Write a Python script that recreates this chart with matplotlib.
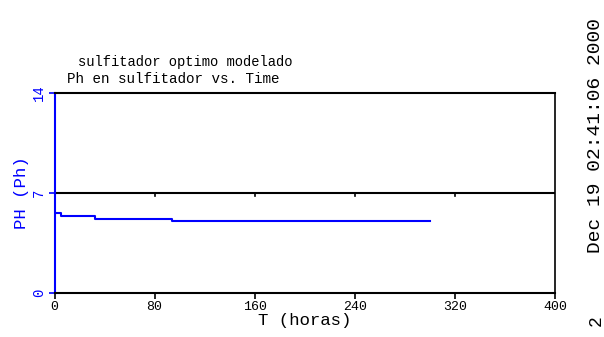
import matplotlib
matplotlib.use("Agg")
import matplotlib.pyplot as plt

# data
t_horas = [0, 5, 32, 94, 300]
ph = [5.57, 5.38, 5.17, 5.01, 5.01]
xticks = [0, 80, 160, 240, 320, 400]
yticks = [0, 7, 14]

plt.rcParams['font.family'] = ['Liberation Mono', 'DejaVu Sans Mono']

fig = plt.figure(figsize=(6.04, 3.37), dpi=100)
ax = fig.add_axes([54.5 / 604, 1 - 292.5 / 337, 500.5 / 604, 200 / 337])

ax.step(t_horas, ph, where='post', color='blue', lw=1.5)
ax.axhline(7, color='black', lw=1.5)

ax.set_xlim(0, 400)
ax.set_ylim(0, 14)
ax.set_xticks(xticks)
ax.set_xticklabels([str(v) for v in xticks], fontsize=9.5)
ax.set_yticks(yticks)
ax.set_yticklabels([str(v) for v in yticks], fontsize=10, rotation=90,
                   va='center', color='blue')
ax.tick_params(axis='x', length=4, width=1.2, direction='out', pad=2)
ax.tick_params(axis='y', length=4, width=1.2, direction='out', pad=2, color='blue')

for side in ['top', 'bottom']:
    ax.spines[side].set_linewidth(1.5)
    ax.spines[side].set_color('black')
ax.spines['right'].set_linewidth(1.2)
ax.spines['left'].set_color('blue')
ax.spines['left'].set_linewidth(1.5)

# middle axis ticks at y = 7
for v in xticks[1:-1]:
    ax.plot([v, v], [7, 6.75], color='black', lw=1.2, clip_on=False)

ax.set_xlabel("T (horas)", fontsize=12.5, labelpad=0)
ax.set_ylabel("PH (Ph)", fontsize=12.5, color='blue', labelpad=2)

fig.text(185 / 604, 1 - 62 / 337, "sulfitador optimo modelado", fontsize=9.9,
         ha='center', va='center')
fig.text(173.5 / 604, 1 - 79 / 337, "Ph en sulfitador vs. Time", fontsize=10.3,
         ha='center', va='center')

fig.text(596 / 604, 1 - 136 / 337, "Dec 19 02:41:06 2000", fontsize=14,
         rotation=90, ha='center', va='center')
fig.text(596 / 604, 1 - 321 / 337, "2", fontsize=13,
         rotation=90, ha='center', va='center')

fig.savefig("out.png", dpi=100)
